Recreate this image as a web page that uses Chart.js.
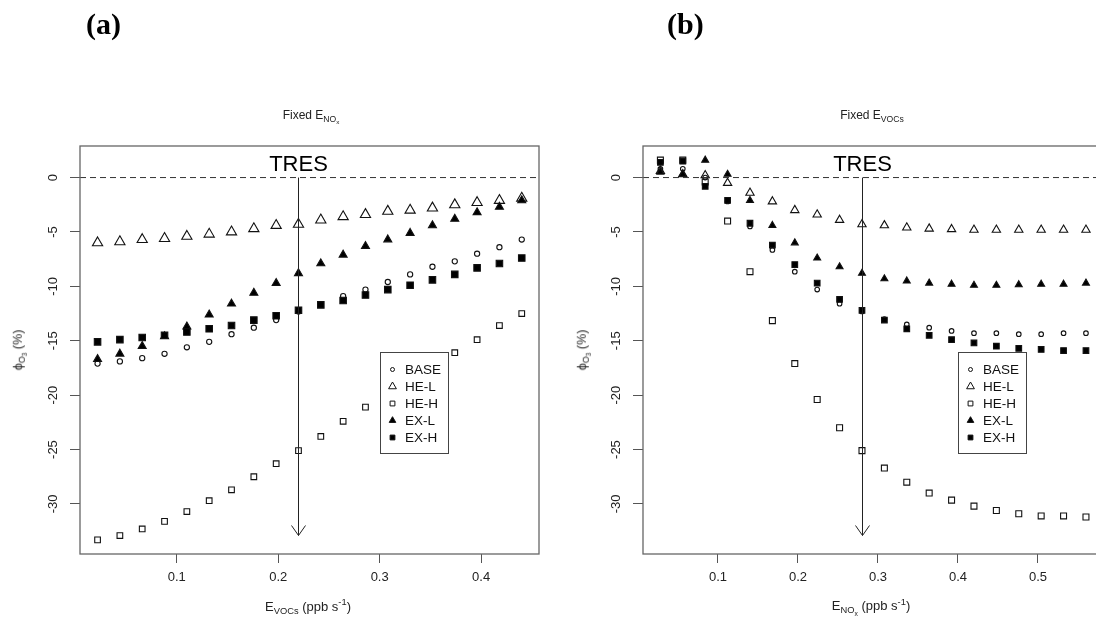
<!DOCTYPE html>
<html>
<head>
<meta charset="utf-8">
<script src="https://cdn.jsdelivr.net/npm/chart.js@4/dist/chart.umd.min.js"></script>
<style>
  body { margin: 0; width: 1096px; height: 619px; overflow: hidden; background: #fff;
         position: relative; font-family: "Liberation Sans", Arial, sans-serif; color: #222; }
  canvas { position: absolute; top: 0; }
  #chartA { left: 0; }
  #chartB { left: 560px; }
  .panel { position: absolute; top: 7px; font-family: "Liberation Serif", "Times New Roman", serif;
           font-weight: bold; font-size: 30px; color: #000; }
  .txt { position: absolute; font-size: 12px; white-space: nowrap; transform: translate(-50%, -50%); }
  .xlab { font-size: 13px; }
  .ylab { position: absolute; font-size: 12.5px; white-space: nowrap;
          transform: translate(-50%, -50%) rotate(-90deg); }
  sub { font-size: 72%; vertical-align: -0.35em; line-height: 0; }
  sup { font-size: 72%; vertical-align: 0.55em; line-height: 0; }
</style>
</head>
<body>
<canvas id="chartA" width="548" height="619"></canvas>
<canvas id="chartB" width="560" height="619"></canvas>

<div class="panel" style="left:86px;">(a)</div>
<div class="panel" style="left:667px;">(b)</div>

<div class="txt" style="left:311px; top:115px;">Fixed E<sub>NO<sub>x</sub></sub></div>
<div class="txt" style="left:872px; top:115px;">Fixed E<sub>VOCs</sub></div>

<div class="ylab" style="left:18px; top:350px;">ϕ<sub>O<sub>3</sub></sub> (%)</div>
<div class="ylab" style="left:582px; top:350px;">ϕ<sub>O<sub>3</sub></sub> (%)</div>

<div class="txt xlab" style="left:308px; top:606px;">E<sub>VOCs</sub> (ppb s<sup>-1</sup>)</div>
<div class="txt xlab" style="left:871px; top:606px;">E<sub>NO<sub>x</sub></sub> (ppb s<sup>-1</sup>)</div>

<script>
// emission rates (ppb/s)
const xA = [0.022, 0.044, 0.066, 0.088, 0.110, 0.132, 0.154, 0.176, 0.198, 0.220,
            0.242, 0.264, 0.286, 0.308, 0.330, 0.352, 0.374, 0.396, 0.418, 0.440];
const xB = [0.028, 0.056, 0.084, 0.112, 0.140, 0.168, 0.196, 0.224, 0.252, 0.280,
            0.308, 0.336, 0.364, 0.392, 0.420, 0.448, 0.476, 0.504, 0.532, 0.560];

// (a) fixed E_NOx
const baseA = [-17.1, -16.9, -16.6, -16.2, -15.6, -15.1, -14.4, -13.8, -13.1, -12.3,
               -11.7, -10.9, -10.3, -9.6, -8.9, -8.2, -7.7, -7.0, -6.4, -5.7];
const heLA  = [-6.0, -5.9, -5.7, -5.6, -5.4, -5.2, -5.0, -4.7, -4.4, -4.3,
               -3.9, -3.6, -3.4, -3.1, -3.0, -2.8, -2.5, -2.3, -2.1, -1.9];
const heHA  = [-33.3, -32.9, -32.3, -31.6, -30.7, -29.7, -28.7, -27.5, -26.3, -25.1,
               -23.8, -22.4, -21.1, -19.8, -18.6, -17.3, -16.1, -14.9, -13.6, -12.5];
const exLA  = [-16.7, -16.2, -15.5, -14.6, -13.7, -12.6, -11.6, -10.6, -9.7, -8.8,
               -7.9, -7.1, -6.3, -5.7, -5.1, -4.4, -3.8, -3.2, -2.7, -2.1];
const exHA  = [-15.1, -14.9, -14.7, -14.5, -14.2, -13.9, -13.6, -13.1, -12.7, -12.2,
               -11.7, -11.3, -10.8, -10.3, -9.9, -9.4, -8.9, -8.3, -7.9, -7.4];

// (b) fixed E_VOCs
const baseB = [0.8, 0.8, 0.0, -2.2, -4.5, -6.65, -8.65, -10.3, -11.6, -12.3,
               -13.0, -13.5, -13.8, -14.1, -14.3, -14.3, -14.4, -14.4, -14.3, -14.3];
const heLB  = [0.6, 0.3, 0.2, -0.5, -1.4, -2.2, -3.0, -3.4, -3.9, -4.3,
               -4.4, -4.6, -4.7, -4.75, -4.8, -4.8, -4.8, -4.8, -4.8, -4.8];
const heHB  = [1.6, 1.6, -0.4, -4.0, -8.65, -13.15, -17.1, -20.4, -23.0, -25.1,
               -26.7, -28.0, -29.0, -29.65, -30.2, -30.6, -30.9, -31.1, -31.1, -31.2];
const exLB  = [0.5, 0.3, 1.6, 0.3, -2.1, -4.4, -6.0, -7.4, -8.2, -8.8,
               -9.3, -9.5, -9.7, -9.8, -9.9, -9.9, -9.85, -9.8, -9.8, -9.7];
const exHB  = [1.4, 1.5, -0.8, -2.1, -4.2, -6.2, -8.0, -9.7, -11.2, -12.2,
               -13.1, -13.9, -14.5, -14.9, -15.2, -15.5, -15.7, -15.8, -15.9, -15.9];

const seriesNames = ['BASE', 'HE-L', 'HE-H', 'EX-L', 'EX-H'];
const yTicks = [0, -5, -10, -15, -20, -25, -30];
const xTicksA = [0.1, 0.2, 0.3, 0.4];
const xTicksB = [0.1, 0.2, 0.3, 0.4, 0.5];
const tresA = 0.22;
const tresB = 0.28;
const arrowEnd = -32.9;

const markers = {
  'BASE': { style: 'circle',   filled: false },
  'HE-L': { style: 'triangle', filled: false },
  'HE-H': { style: 'rect',     filled: false },
  'EX-L': { style: 'triangle', filled: true },
  'EX-H': { style: 'rect',     filled: true }
};

function drawMarker(ctx, name, x, y, r) {
  const m = markers[name];
  ctx.beginPath();
  if (m.style === 'circle') {
    ctx.arc(x, y, r, 0, Math.PI * 2);
  } else if (m.style === 'triangle') {
    ctx.moveTo(x, y - r);
    ctx.lineTo(x + r * 0.866, y + r * 0.5);
    ctx.lineTo(x - r * 0.866, y + r * 0.5);
    ctx.closePath();
  } else {
    const s = r * 0.7071;
    ctx.rect(x - s, y - s, 2 * s, 2 * s);
  }
  if (m.filled) { ctx.fillStyle = '#000'; ctx.fill(); }
  ctx.strokeStyle = '#111';
  ctx.lineWidth = 1;
  ctx.stroke();
}

const framePlugin = {
  id: 'frame',
  afterDatasetsDraw(chart, args, opts) {
    const ctx = chart.ctx;
    const a = chart.chartArea;
    const x = chart.scales.x, y = chart.scales.y;
    ctx.save();

    // zero line
    const y0 = y.getPixelForValue(0);
    ctx.strokeStyle = '#333';
    ctx.lineWidth = 1;
    ctx.setLineDash([6, 4]);
    ctx.beginPath();
    ctx.moveTo(a.left, y0);
    ctx.lineTo(a.right, y0);
    ctx.stroke();
    ctx.setLineDash([]);

    // TRES arrow
    const xt = Math.round(x.getPixelForValue(opts.tres)) + 0.5;
    const yt = y.getPixelForValue(arrowEnd);
    ctx.strokeStyle = '#222';
    ctx.beginPath();
    ctx.moveTo(xt, y0);
    ctx.lineTo(xt, yt);
    ctx.moveTo(xt - 7, yt - 10);
    ctx.lineTo(xt, yt);
    ctx.lineTo(xt + 7, yt - 10);
    ctx.stroke();
    ctx.fillStyle = '#000';
    ctx.font = '22px "Liberation Sans", Arial, sans-serif';
    ctx.textAlign = 'center';
    ctx.textBaseline = 'alphabetic';
    ctx.fillText('TRES', xt, a.top + 25);

    // plot box
    ctx.strokeStyle = '#666';
    ctx.lineWidth = 1.3;
    ctx.strokeRect(a.left, a.top, a.right - a.left, a.bottom - a.top);

    // legend
    const lx = a.left + opts.legendX, ly = a.top + 206, lw = 68, lh = 101;
    ctx.fillStyle = '#fff';
    ctx.fillRect(lx, ly, lw, lh);
    ctx.strokeStyle = '#444';
    ctx.lineWidth = 1;
    ctx.strokeRect(lx + 0.5, ly + 0.5, lw, lh);
    ctx.font = '13.5px "Liberation Sans", Arial, sans-serif';
    ctx.textAlign = 'left';
    ctx.textBaseline = 'middle';
    seriesNames.forEach((name, i) => {
      const ry = ly + 17.5 + i * 17;
      const r = name === 'BASE' ? 2 : (name === 'HE-L' ? 4.5 : (name === 'EX-L' ? 3.8 : 3.4));
      drawMarker(ctx, name, lx + 12.5, ry, r);
      ctx.fillStyle = '#111';
      ctx.fillText(name, lx + 25, ry + 1);
    });
    ctx.restore();
  }
};

function dataset(name, xs, ys, radius, order) {
  const m = markers[name];
  return {
    label: name,
    data: xs.map((v, i) => ({ x: v, y: ys[i] })),
    showLine: false,
    pointStyle: m.style,
    pointRadius: radius,
    pointHoverRadius: radius,
    pointBorderWidth: 1.1,
    pointBorderColor: '#111',
    pointBackgroundColor: m.filled ? '#000' : 'rgba(0,0,0,0)',
    order: order
  };
}

function makeChart(id, cfg) {
  const ctx = document.getElementById(id).getContext('2d');
  return new Chart(ctx, {
    type: 'scatter',
    data: { datasets: cfg.datasets },
    options: {
      responsive: false,
      animation: false,
      events: [],
      layout: { padding: { top: 146, right: cfg.padRight, bottom: 0, left: 0 } },
      scales: {
        x: {
          type: 'linear',
          min: cfg.xMin, max: cfg.xMax,
          afterBuildTicks: s => { s.ticks = cfg.xTicks.map(v => ({ value: v })); },
          afterFit: s => { s.height = 65; },
          border: { display: false },
          grid: { drawOnChartArea: false, drawTicks: true, tickLength: 9, color: '#555', lineWidth: 1 },
          ticks: { color: '#222', font: { family: '"Liberation Sans", Arial', size: 13 },
                   padding: 7, maxRotation: 0, autoSkip: false }
        },
        y: {
          type: 'linear',
          min: -34.6, max: 2.9,
          afterBuildTicks: s => { s.ticks = yTicks.map(v => ({ value: v })); },
          afterFit: s => { s.width = cfg.yWidth; },
          border: { display: false },
          grid: { drawOnChartArea: false, drawTicks: true, tickLength: 10, color: '#555', lineWidth: 1 },
          ticks: { color: '#222', font: { family: '"Liberation Sans", Arial', size: 13 },
                   minRotation: 90, maxRotation: 90, crossAlign: 'center', padding: 7, autoSkip: false }
        }
      },
      plugins: {
        legend: { display: false },
        tooltip: { enabled: false },
        frame: { tres: cfg.tres, legendX: cfg.legendX }
      }
    },
    plugins: [framePlugin]
  });
}

document.addEventListener("DOMContentLoaded", function() {
  makeChart('chartA', {
    xMin: 0.0047, xMax: 0.457, xTicks: xTicksA, padRight: 9, yWidth: 80,
    tres: tresA, legendX: 300,
    datasets: [
      dataset('EX-H', xA, exHA, 4.6, 0),
      dataset('EX-L', xA, exLA, 4.6, 1),
      dataset('HE-H', xA, heHA, 4.0, 2),
      dataset('HE-L', xA, heLA, 5.9, 3),
      dataset('BASE', xA, baseA, 2.6, 4)
    ]
  });

  makeChart('chartB', {
    xMin: 0.00625, xMax: 0.5813, xTicks: xTicksB, padRight: 17, yWidth: 83,
    tres: tresB, legendX: 315,
    datasets: [
      dataset('EX-H', xB, exHB, 4.0, 0),
      dataset('EX-L', xB, exLB, 4.0, 1),
      dataset('HE-H', xB, heHB, 4.2, 2),
      dataset('HE-L', xB, heLB, 4.8, 3),
      dataset('BASE', xB, baseB, 2.3, 4)
    ]
  });
});
</script>
</body>
</html>
